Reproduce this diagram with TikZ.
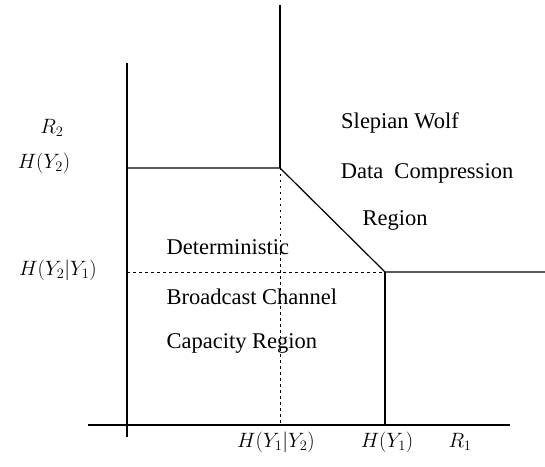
\documentclass[tikz,border=0pt]{standalone}
\usepackage{fontspec}
\setmainfont{Liberation Serif}

\begin{document}
\begin{tikzpicture}[x=1pt,y=1pt,
   axis/.style={line width=1.2pt},
   guide/.style={line width=0.9pt, dash pattern=on 2.5pt off 3.5pt},
   mlabel/.style={font=\fontsize{21}{25}\selectfont},
   rtext/.style={font=\fontsize{22.5}{26}\selectfont}]%
   \useasboundingbox (0,0) rectangle (545,466);
   % corner points of the region
   \coordinate (top) at (280,461);
   \coordinate (hy2) at (280,298);
   \coordinate (hy1) at (385,194);
   \coordinate (hy2left) at (127,298);
   \coordinate (hy2y1) at (127,194);
   \coordinate (hy1y2) at (280,41);
   \coordinate (hy1foot) at (385,41);
   \coordinate (rightend) at (545,194);
   % axes
   \draw[axis] (127,29) -- (127,403);
   \draw[axis] (88,41) -- (510,41);
   % boundary
   \draw[axis] (hy2left) -- (hy2) -- (hy1) -- (rightend);
   \draw[axis] (top) -- (hy2);
   \draw[axis] (hy1) -- (hy1foot);
   \draw[guide] (hy2y1) -- (hy1);
   \draw[guide] (hy2) -- (hy1y2);
   % axis labels
   \draw (52,338) node[mlabel] {$R_2$};
   \draw (44,303) node[mlabel] {$H(Y_2)$};
   \draw (58,196) node[mlabel] {$H(Y_2|Y_1)$};
   \draw (276,24) node[mlabel] {$H(Y_1|Y_2)$};
   \draw (387,24) node[mlabel] {$H(Y_1)$};
   \draw (460,24) node[mlabel] {$R_1$};
   % region names
   \draw (400,343) node[rtext] {Slepian Wolf};
   \draw (427,293) node[rtext] {Data\enspace Compression};
   \draw (395,246) node[rtext] {Region};
   \draw (163,219) node[rtext, anchor=west] {Deterministic};
   \draw (163,169) node[rtext, anchor=west] {Broadcast Channel};
   \draw (163,123) node[rtext, anchor=west] {Capacity Region};
\end{tikzpicture}
\end{document}
